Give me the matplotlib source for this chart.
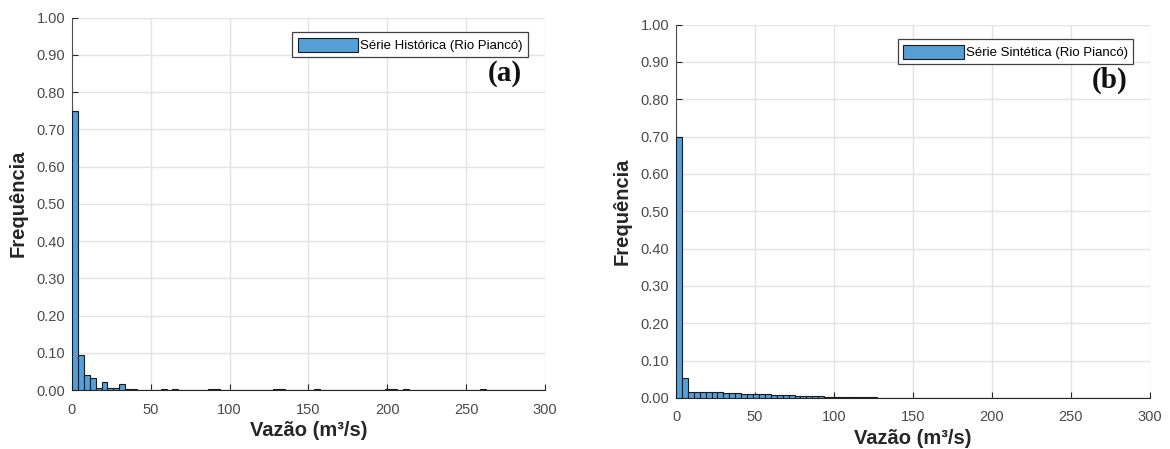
import numpy as np
import matplotlib
matplotlib.use('Agg')
import matplotlib.pyplot as plt

plt.rcParams['font.family'] = ['Liberation Sans', 'DejaVu Sans']

# histogram bins (width 3.75 m3/s, 80 bins from 0 to 300)
bin_width = 3.75
n_bins = 80

# observed series: {bin index: frequency}
hist_obs = {0: 0.749, 1: 0.094, 2: 0.040, 3: 0.031, 4: 0.005, 5: 0.022,
            6: 0.005, 7: 0.005, 8: 0.015, 9: 0.004, 10: 0.002, 11: 0.001,
            15: 0.003, 17: 0.003, 23: 0.003, 24: 0.003, 34: 0.003,
            35: 0.003, 41: 0.003, 53: 0.003, 54: 0.002, 56: 0.003,
            69: 0.003}

# synthetic series, first 56 bins (rest ~0)
hist_syn = [0.700, 0.053, 0.017, 0.016, 0.016, 0.016, 0.015, 0.015,
            0.014, 0.014, 0.013, 0.012, 0.012, 0.011, 0.011, 0.010,
            0.009, 0.008, 0.007, 0.007, 0.006, 0.005, 0.005, 0.004,
            0.004, 0.003, 0.003, 0.003, 0.002, 0.002, 0.002, 0.002,
            0.0015, 0.0015, 0.0012, 0.0012, 0.001, 0.001, 0.001, 0.001,
            0.0008, 0.0006, 0.0005, 0.0005, 0.0004, 0.0004, 0.0003, 0.0003,
            0.0003, 0.0002, 0.0002, 0.0002, 0.0002, 0.0001, 0.0001, 0.0001]

labels = ['Série Histórica (Rio Piancó)', 'Série Sintética (Rio Piancó)']
tags = ['(a)', '(b)']

edges = np.arange(n_bins) * bin_width
freq_obs = np.zeros(n_bins)
for k, v in hist_obs.items():
    freq_obs[k] = v
freq_syn = np.zeros(n_bins)
freq_syn[:len(hist_syn)] = hist_syn

fig = plt.figure(figsize=(11.70, 4.49), dpi=100)
ax1 = fig.add_axes([0.0615, 0.1314, 0.4043, 0.8296])
ax2 = fig.add_axes([0.5778, 0.1136, 0.4051, 0.8318])

bar_c = '#559fd6'
for ax, freq, lab, tag in zip([ax1, ax2], [freq_obs, freq_syn], labels, tags):
    ax.bar(edges, freq, width=bin_width, align='edge', color=bar_c,
           edgecolor='#1a1a1a', linewidth=0.8, label=lab, zorder=3)
    ax.set_xlim(0, 300)
    ax.set_ylim(0, 1.0)
    ax.set_xticks(np.arange(0, 301, 50))
    ax.set_yticks(np.arange(0, 1.01, 0.1))
    ax.set_yticklabels(['%.2f' % v for v in np.arange(0, 1.01, 0.1)])
    ax.grid(True, color='#e3e3e3', linewidth=1.0, zorder=0)
    ax.set_axisbelow(True)
    ax.spines['top'].set_visible(False)
    ax.spines['right'].set_visible(False)
    ax.spines['left'].set_color('#505050')
    ax.spines['bottom'].set_color('#262626')
    ax.tick_params(direction='in', length=4, labelsize=10.5,
                   labelcolor='#4a4a4a', color='#262626')
    ax.tick_params(axis='x', pad=9)
    ax.tick_params(axis='y', pad=5)
    ax.set_xlabel('Vazão (m³/s)', fontsize=14.5, fontweight='bold',
                  color='#262626', labelpad=3)
    ax.set_ylabel('Frequência', fontsize=14.5, fontweight='bold',
                  color='#262626', labelpad=6)
    leg = ax.legend(loc='upper right', fontsize=9.5, frameon=True,
                    fancybox=False, edgecolor='#404040', framealpha=1,
                    handlelength=4.6, handleheight=1.3, handletextpad=0.15,
                    borderpad=0.4, borderaxespad=0.5, bbox_to_anchor=(0.978, 0.978))
    leg.get_frame().set_linewidth(0.9)
    ax.text(0.952, 0.85, tag, transform=ax.transAxes, ha='right', va='center',
            fontsize=21, fontweight='bold', family='Liberation Serif', color='#111111')

plt.savefig('out.png', dpi=100)
